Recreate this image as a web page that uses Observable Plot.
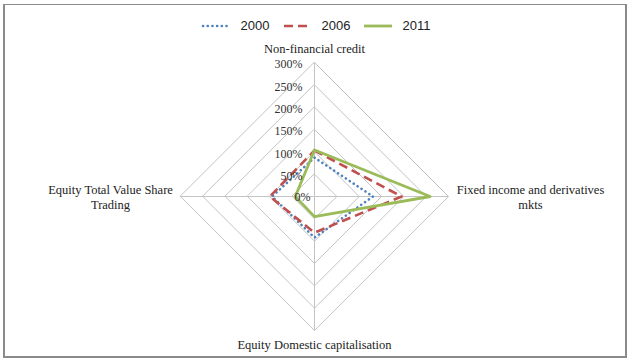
<!DOCTYPE html>
<html>
<head>
<meta charset="utf-8">
<script src="https://cdn.jsdelivr.net/npm/d3@7"></script>
<script src="https://cdn.jsdelivr.net/npm/@observablehq/plot@0.6"></script>
<style>
  html, body { margin: 0; padding: 0; background: #fff; }
  #wrap { position: relative; width: 631px; height: 363px; overflow: hidden; background: #fff; }
  #frame { position: absolute; left: 3px; top: 4px; width: 620px; height: 351px; border: 2px solid #8a8a8a; border-top-width: 1px; border-left-width: 2px; }
  #chart { position: absolute; left: 0; top: 0; }
  #legend { position: absolute; left: 0; top: 18px; width: 631px; display: flex; justify-content: center; align-items: center;
            font-family: "Liberation Sans", Arial, sans-serif; font-size: 13px; color: #222; }
  #legend .item { display: flex; align-items: center; margin: 0 6px; }
  #legend svg { margin-right: 8px; }
</style>
</head>
<body>
<div id="wrap">
  <div id="frame"></div>
  <div id="chart"></div>
  <div id="legend"></div>
</div>
<script>
// ---- data ----
const categories = ["Non-financial credit", "Fixed income and derivatives mkts", "Equity Domestic capitalisation", "Equity Total Value Share Trading"];
const categoryLabels = ["Non-financial credit", "Fixed income and derivatives\nmkts", "Equity Domestic capitalisation", "Equity Total Value Share\nTrading"];
const years = ["2000", "2006", "2011"];
const values2000 = [87, 131, 92, 95];
const values2006 = [103, 195, 81, 100];
const values2011 = [104, 259, 45, 43];
const tickValues = [0, 50, 100, 150, 200, 250, 300];

// ---- styles ----
const seriesStyle = {
  "2000": {stroke: "#4f81bd", dash: "0.1,4.6", cap: "round", width: 2.6},
  "2006": {stroke: "#c0504d", dash: "9,5", cap: "butt", width: 2.6},
  "2011": {stroke: "#9bbb59", dash: null, cap: "butt", width: 2.8}
};

const n = categories.length;
const ang = i => i * 2 * Math.PI / n;
const px = (v, i) => v * Math.sin(ang(i));
const py = (v, i) => v * Math.cos(ang(i));
const maxV = tickValues[tickValues.length - 1];

const series = {"2000": values2000, "2006": values2006, "2011": values2011};
const seriesData = years.map(y => series[y].map((v, i) => ({year: y, cat: categories[i], v, x: px(v, i), y: py(v, i)})));

const gridData = tickValues.filter(t => t > 0).flatMap(t => categories.map((c, i) => ({t, x: px(t, i), y: py(t, i)})));
const spokes = categories.map((c, i) => ({x2: px(maxV, i), y2: py(maxV, i)}));
const labelData = categoryLabels.map((c, i) => ({label: c, x: px(maxV, i), y: py(maxV, i), i}));

const textFont = "'Liberation Serif', 'DejaVu Serif', serif";
const catSize = 12.5;

const marks = [
  Plot.line(gridData, {x: "x", y: "y", z: "t", curve: "linear-closed", stroke: "#c4c4c4", strokeWidth: 1}),
  Plot.link(spokes, {x1: 0, y1: 0, x2: "x2", y2: "y2", stroke: "#c4c4c4", strokeWidth: 1}),
  ...seriesData.map(d => {
    const s = seriesStyle[d[0].year];
    return Plot.line(d, {x: "x", y: "y", curve: "linear-closed", stroke: s.stroke, strokeWidth: s.width,
      strokeDasharray: s.dash, strokeLinecap: s.cap, strokeLinejoin: "round"});
  }),
  Plot.text(tickValues.filter(t => t > 0), {x: 0, y: d => d, text: d => d + "%", textAnchor: "end", dx: -12, dy: 2,
    lineAnchor: "middle", fontSize: 12, fill: "#333", fontFamily: textFont}),
  Plot.text(tickValues.filter(t => t === 0), {x: 0, y: d => d, text: d => d + "%", textAnchor: "end", dx: -4, dy: 1,
    lineAnchor: "middle", fontSize: 12, fill: "#333", fontFamily: textFont}),
  // category labels
  Plot.text(labelData.filter(d => d.i === 0), {x: "x", y: "y", text: "label", dy: -14, lineAnchor: "middle", fontSize: catSize, fill: "#222", fontFamily: textFont}),
  Plot.text(labelData.filter(d => d.i === 1), {x: "x", y: "y", text: "label", dx: 82, lineAnchor: "middle", lineHeight: 1.2, fontSize: catSize, fill: "#222", fontFamily: textFont}),
  Plot.text(labelData.filter(d => d.i === 2), {x: "x", y: "y", text: "label", dy: 14, lineAnchor: "middle", fontSize: catSize, fill: "#222", fontFamily: textFont}),
  Plot.text(labelData.filter(d => d.i === 3), {x: "x", y: "y", text: "label", dx: -70, lineAnchor: "middle", lineHeight: 1.2, fontSize: catSize, fill: "#222", fontFamily: textFont})
];

const chart = Plot.plot({
  width: 631,
  height: 363,
  margin: 0,
  x: {type: "linear", domain: [-maxV, maxV], range: [180, 448], axis: null},
  y: {type: "linear", domain: [-maxV, maxV], range: [330, 62], axis: null},
  style: {background: "transparent", overflow: "visible"},
  marks
});
document.getElementById("chart").appendChild(chart);

// ---- legend ----
const legend = document.getElementById("legend");
years.forEach(y => {
  const s = seriesStyle[y];
  const item = document.createElement("div");
  item.className = "item";
  item.innerHTML = `<svg width="32" height="6"><line x1="2" y1="3" x2="30" y2="3" stroke="${s.stroke}" stroke-width="${s.width}" ${s.dash ? `stroke-dasharray="${s.dash}"` : ""} stroke-linecap="${s.cap}"/></svg><span>${y}</span>`;
  legend.appendChild(item);
});
</script>
</body>
</html>
